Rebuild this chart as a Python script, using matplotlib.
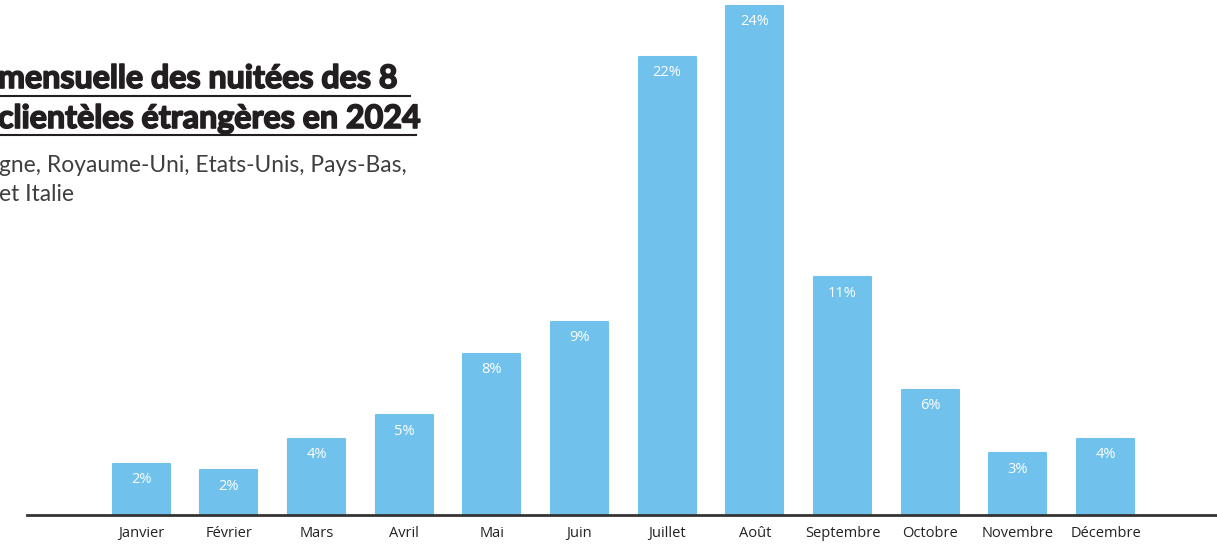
import matplotlib.pyplot as plt
from matplotlib.lines import Line2D
import matplotlib.patheffects as pe

# monthly share of nights (%)
mois = ['Janvier', 'Février', 'Mars', 'Avril', 'Mai', 'Juin', 'Juillet',
        'Août', 'Septembre', 'Octobre', 'Novembre', 'Décembre']
parts = [2.4, 2.1, 3.6, 4.7, 7.6, 9.1, 21.6, 24.0, 11.2, 5.9, 2.9, 3.6]
etiquettes = ['2%', '2%', '4%', '5%', '8%', '9%', '22%', '24%', '11%', '6%', '3%', '4%']

titre = ['mensuelle des nuitées des 8 ', 'clientèles étrangères en 2024']
sous_titre = ['gne, Royaume-Uni, Etats-Unis, Pays-Bas,', 'et Italie']

W, H = 1217, 544
fig = plt.figure(figsize=(W / 100, H / 100), dpi=100)
ax = fig.add_axes([27 / W, 29 / H, 1 - 27 / W, 515 / H])

bleu = '#70C2EC'
x = list(range(len(mois)))
bars = ax.bar(x, parts, width=0.65, color=bleu, edgecolor=bleu,
              linewidth=1.5, joinstyle='round', zorder=2)

for b, txt in zip(bars, etiquettes):
    ax.annotate(txt, (b.get_x() + b.get_width() / 2, b.get_height()),
                xytext=(0, -6), textcoords='offset points',
                ha='center', va='top', color='white', fontsize=10.5,
                family='Open Sans', zorder=3)

ax.set_xlim(-1.30, 12.27)
ax.set_ylim(0, 24.28)
ax.set_xticks(x)
ax.set_xticklabels(mois, fontsize=10.5, color='#222222', family='Open Sans',
                   va='baseline')
ax.tick_params(axis='x', length=0, pad=16)
ax.set_yticks([])
for s in ['top', 'right', 'left']:
    ax.spines[s].set_visible(False)
ax.spines['bottom'].set_color('#333333')
ax.spines['bottom'].set_linewidth(2)

# title block, clipped on the left like the source
gras = [pe.withStroke(linewidth=1.2, foreground='#231f20')]
for ligne, yb in zip(titre, [88, 128]):
    fig.text(-2 / W, 1 - yb / H, ligne, fontsize=23.2, fontweight='bold',
             family='Lato', color='#231f20', ha='left', va='baseline',
             path_effects=gras)
fig.add_artist(Line2D([0, 410 / W], [1 - 96 / H, 1 - 96 / H],
                      color='#231f20', lw=1.5))
fig.add_artist(Line2D([0, 416 / W], [1 - 135 / H, 1 - 135 / H],
                      color='#231f20', lw=1.5))
for ligne, yb in zip(sous_titre, [172, 201]):
    fig.text(-1 / W, 1 - yb / H, ligne, fontsize=16.4, fontweight='normal',
             family='Lato', color='#3f3f3f', ha='left', va='baseline')

fig.savefig('out.png', dpi=100)
